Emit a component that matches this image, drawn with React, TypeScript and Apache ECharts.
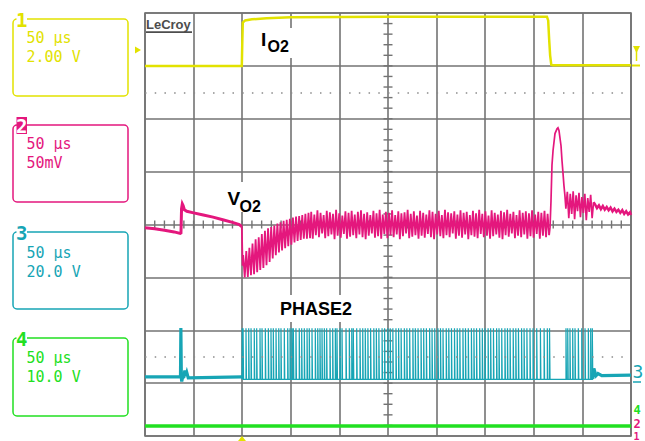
import React, { useEffect, useRef } from "react";
import * as echarts from "echarts";

// ---------- data (time in µs, vertical position in screen divisions, 0 = centre) ----------
const channelNumbers = ["1", "2", "3", "4"];
const timePerDiv = ["50 µs", "50 µs", "50 µs", "50 µs"];
const voltsPerDiv = ["2.00 V", "50mV", "20.0 V", "10.0 V"];
const traceLabels = ["I", "V", "PHASE2"];

// Channel 1 : I_O2 load step
const ioTrace: [number, number][] = [
  [0, 3.0], [99.6, 3.0], [100.1, 3.45], [100.6, 3.82], [103, 3.86], [110, 3.88], [125, 3.9],
  [150, 3.92], [250, 3.93], [413.5, 3.93], [414.8, 3.86], [415.8, 3.5], [416.8, 3.2],
  [418, 3.02], [419.5, 3.01], [500, 3.01],
];

// Channel 2 : V_O2 before the step
const vo2Pre: [number, number][] = [
  [0, -0.06], [10, -0.08], [20, -0.11], [30, -0.14], [36.2, -0.17], [37.0, -0.16], [37.6, 0.3],
  [38.4, 0.39], [39.2, 0.36], [40.5, 0.28], [43, 0.25], [50, 0.22], [60, 0.18], [70, 0.14],
  [80, 0.09], [90, 0.04], [97, 0.0], [99.6, -0.04],
];

// Channel 2 : V_O2 ripple during the load
const vo2Ripple: [number, number][] = [
  [99.6, -0.04], [100.4, -0.78],
  [101.0, -0.58], [102.6, -1.0], [104.2, -0.5], [105.8, -0.99], [107.4, -0.44], [109.0, -0.96],
  [110.6, -0.36], [112.2, -0.94], [113.8, -0.28], [115.4, -0.9], [117.0, -0.24], [118.6, -0.86],
  [120.2, -0.18], [121.8, -0.82], [123.4, -0.12], [125.0, -0.77], [126.6, -0.07], [128.2, -0.71],
  [129.8, -0.05], [131.4, -0.64], [133.0, -0.02], [134.6, -0.58], [136.2, 0.02], [137.8, -0.53],
  [139.4, 0.04], [141.0, -0.49], [142.6, 0.07], [144.2, -0.45], [145.8, 0.09], [147.4, -0.41],
  [149.0, 0.11], [150.6, -0.38], [152.2, 0.13], [153.8, -0.34], [155.4, 0.15], [157.0, -0.31],
  [158.6, 0.16], [160.2, -0.29], [161.8, 0.18], [163.4, -0.27], [165.0, 0.2], [166.6, -0.27],
  [168.2, 0.22], [169.8, -0.26],
  [171.0, 0.24], [172.6, -0.27], [174.2, 0.19], [175.8, -0.2], [177.4, 0.27], [179.0, -0.24],
  [180.6, 0.22], [182.2, -0.17], [183.8, 0.18], [185.4, -0.26], [187.0, 0.26], [188.6, -0.22],
  [190.2, 0.23], [191.8, -0.19], [193.4, 0.2], [195.0, -0.28], [196.6, 0.28], [198.2, -0.21],
  [199.8, 0.21], [201.4, -0.25],
  [203.0, 0.17], [204.6, -0.18], [206.2, 0.25], [207.8, -0.27], [209.4, 0.22], [211.0, -0.23],
  [212.6, 0.26], [214.2, -0.2], [215.8, 0.19], [217.4, -0.26], [219.0, 0.24], [220.6, -0.19],
  [222.2, 0.27], [223.8, -0.24], [225.4, 0.2], [227.0, -0.28], [228.6, 0.23], [230.2, -0.21],
  [231.8, 0.18], [233.4, -0.17],
  [235.0, 0.26], [236.6, -0.25], [238.2, 0.21], [239.8, -0.22], [241.4, 0.28], [243.0, -0.27],
  [244.6, 0.19], [246.2, -0.18], [247.8, 0.24], [249.4, -0.26], [251.0, 0.22], [252.6, -0.2],
  [254.2, 0.27], [255.8, -0.24], [257.4, 0.18], [259.0, -0.19], [260.6, 0.25], [262.2, -0.28],
  [263.8, 0.21], [265.4, -0.22],
  [267.0, 0.23], [268.6, -0.17], [270.2, 0.28], [271.8, -0.26], [273.4, 0.2], [275.0, -0.23],
  [276.6, 0.25], [278.2, -0.2], [279.8, 0.17], [281.4, -0.27], [283.0, 0.26], [284.6, -0.21],
  [286.2, 0.22], [287.8, -0.25], [289.4, 0.19], [291.0, -0.18], [292.6, 0.27], [294.2, -0.24],
  [295.8, 0.24], [297.4, -0.28],
  [299.0, 0.2], [300.6, -0.19], [302.2, 0.26], [303.8, -0.22], [305.4, 0.18], [307.0, -0.26],
  [308.6, 0.28], [310.2, -0.2], [311.8, 0.23], [313.4, -0.24], [315.0, 0.21], [316.6, -0.17],
  [318.2, 0.25], [319.8, -0.27], [321.4, 0.19], [323.0, -0.21], [324.6, 0.27], [326.2, -0.25],
  [327.8, 0.22], [329.4, -0.19],
  [331.0, 0.24], [332.6, -0.28], [334.2, 0.18], [335.8, -0.2], [337.4, 0.26], [339.0, -0.23],
  [340.6, 0.21], [342.2, -0.26], [343.8, 0.28], [345.4, -0.18], [347.0, 0.2], [348.6, -0.24],
  [350.2, 0.25], [351.8, -0.21], [353.4, 0.17], [355.0, -0.27], [356.6, 0.27], [358.2, -0.22],
  [359.8, 0.22], [361.4, -0.19],
  [363.0, 0.19], [364.6, -0.25], [366.2, 0.26], [367.8, -0.28], [369.4, 0.23], [371.0, -0.2],
  [372.6, 0.28], [374.2, -0.23], [375.8, 0.2], [377.4, -0.17], [379.0, 0.24], [380.6, -0.26],
  [382.2, 0.18], [383.8, -0.21], [385.4, 0.27], [387.0, -0.24], [388.6, 0.22], [390.2, -0.19],
  [391.8, 0.25], [393.4, -0.27],
  [395.0, 0.21], [396.6, -0.22], [398.2, 0.27], [399.8, -0.25], [401.4, 0.19], [403.0, -0.18],
  [404.6, 0.24], [406.2, -0.27], [407.8, 0.22], [409.4, -0.21], [411.0, 0.26], [412.6, -0.24],
  [414.2, 0.2], [415.8, -0.2],
];

// Channel 2 : overshoot at load release and its ripple
const vo2Overshoot: [number, number][] = [
  [415.8, -0.2], [416.7, -0.05], [417.7, 0.45], [418.7, 1.12], [419.8, 1.4], [421.8, 1.72],
  [423.9, 1.81], [424.9, 1.83], [425.9, 1.78], [428.0, 1.49], [429.0, 1.21], [430.0, 0.98],
  [431.0, 0.74], [432.0, 0.55], [433.0, 0.3], [434.5, 0.62], [436.0, 0.12], [437.5, 0.58],
  [439.0, 0.2], [440.5, 0.63], [442.0, 0.1], [443.5, 0.55], [445.0, 0.25], [446.5, 0.6],
  [448.0, 0.14], [449.5, 0.52], [451.0, 0.22], [452.5, 0.58], [454.0, 0.08], [455.5, 0.5],
  [457.0, 0.24], [458.5, 0.56], [460.0, 0.12], [461.5, 0.42],
];

// Channel 2 : slow decay at the end
const vo2Tail: [number, number][] = [
  [461.5, 0.42], [463.0, 0.38], [465.0, 0.31], [467.0, 0.36], [469.0, 0.29], [471.0, 0.35],
  [473.0, 0.28], [475.0, 0.33], [477.0, 0.27], [479.0, 0.32], [481.0, 0.25], [483.0, 0.3],
  [485.0, 0.24], [487.0, 0.28], [489.0, 0.22], [491.0, 0.27], [493.0, 0.2], [495.0, 0.25],
  [497.0, 0.19], [499.0, 0.23], [500.0, 0.18],
];

// Channel 3 : PHASE2 switch node
const phasePre: [number, number][] = [
  [0, -2.88], [36.5, -2.88], [36.9, -1.96], [37.4, -2.9], [37.8, -2.97], [38.5, -2.9],
  [40, -2.88], [41, -2.76], [42, -2.86], [43, -2.8], [44.5, -2.9], [99.8, -2.88],
];
const phaseLow = -2.93;
const phaseHigh = -1.96;
const phasePulseTimes = [
  100.0, 100.9, 103.9, 106.7, 109.1, 112.4, 114.9, 118.3, 120.4, 123.8, 126.9, 129.6, 132.0,
  134.8, 137.6, 139.9, 143.3, 146.8, 149.2, 151.2, 152.6, 155.3, 158.7, 161.2, 163.9, 166.7,
  169.0, 171.8, 175.2, 177.7, 180.0, 182.1, 184.5, 186.9, 190.3, 193.1, 195.8, 197.5, 200.6,
  202.7, 206.8, 210.2, 212.7, 214.3, 217.8, 221.2, 224.0, 226.6, 229.3, 232.1, 235.4, 238.0,
  240.6, 243.9, 246.5, 249.8, 252.3, 255.0, 258.2, 260.9, 263.5, 266.8, 269.4, 272.3, 275.6,
  278.1, 280.9, 284.0, 286.7, 289.5, 292.8, 295.3, 298.1, 301.4, 304.0, 306.6, 309.9, 312.5,
  315.3, 318.4, 321.2, 323.9, 327.1, 329.7, 332.6, 335.8, 338.4, 341.1, 344.3, 347.0, 349.8,
  353.0, 355.6, 358.5, 361.7, 364.2, 367.0, 370.3, 372.9, 375.6, 378.8, 381.5, 384.2, 387.4,
  390.0, 392.9, 396.1, 399.2, 403.0, 406.8, 410.6, 413.9, 416.2, 433.1, 434.9, 437.2, 440.0,
  442.4, 445.8, 449.3, 452.7, 456.1, 458.5, 460.2,
];
const phasePost: [number, number][] = [
  [460.7, -2.92], [461.8, -2.72], [463.0, -2.8], [464.0, -2.86], [466.0, -2.82], [470.0, -2.86],
  [500.0, -2.85],
];

// Channel 4 : flat trace
const ch4Trace: [number, number][] = [[0, -3.81], [500, -3.81]];

// ---------- styling ----------
const CH1 = "#e2e200";
const CH2 = "#e4177d";
const CH3 = "#17a5b5";
const CH4 = "#22e022";
const GRID = "#737373";

export default function App() {
  const ref = useRef<HTMLDivElement>(null);

  useEffect(() => {
    if (!ref.current) return;
    const chart = echarts.init(ref.current, null, { renderer: "svg" });

    const pulseData: [number, number][] = [[99.8, phaseLow]];
    phasePulseTimes.forEach((t) => {
      pulseData.push([t, phaseLow], [t, phaseHigh], [t + 0.5, phaseHigh], [t + 0.5, phaseLow]);
    });
    pulseData.push([460.7, phaseLow]);

    const mono = '"DejaVu Sans Mono", monospace';
    const sans = '"Liberation Sans", Arial, sans-serif';

    const txt = (
      text: string, x: number, y: number, fill: string, fontSize: number,
      fontFamily: string, fontWeight = "normal", align = "left", z = 100
    ) => ({
      type: "text", x, y, z, silent: true,
      style: {
        text, fill, fontSize, fontFamily, fontWeight,
        align, verticalAlign: "middle", textAlign: align, textVerticalAlign: "middle",
      },
    });

    const boxes = [
      { color: CH1, y: 19, h: 77, l1: 37.5, l2: 56.5, ny: 19.5, inv: false },
      { color: CH2, y: 125, h: 77, l1: 144, l2: 163, ny: 125.5, inv: true },
      { color: CH3, y: 232, h: 77, l1: 252.5, l2: 271.5, ny: 233, inv: false },
      { color: CH4, y: 338, h: 78, l1: 357.5, l2: 377, ny: 339, inv: false },
    ];

    const elements: any[] = [];
    boxes.forEach((b, i) => {
      elements.push({
        type: "rect", z: 90, silent: true,
        shape: { x: 13, y: b.y, width: 115, height: b.h, r: 4 },
        style: { fill: "transparent", stroke: b.color, lineWidth: 1.5 },
      });
      elements.push({
        type: "rect", z: 95, silent: true,
        shape: { x: 16.5, y: b.ny - 8.5, width: 10.5, height: 17 },
        style: { fill: b.inv ? b.color : "#ffffff" },
      });
      elements.push(txt(channelNumbers[i], 21.8, b.ny, b.inv ? "#ffffff" : b.color, 19, mono, "bold", "center"));
      elements.push(txt(timePerDiv[i], 26.5, b.l1, b.color, 15, mono));
      elements.push(txt(voltsPerDiv[i], 26.5, b.l2, b.color, 15, mono));
    });

    // annotation labels with white backgrounds
    elements.push({ type: "rect", z: 60, silent: true, shape: { x: 244, y: 28, width: 49, height: 30 }, style: { fill: "#ffffff" } });
    elements.push(txt(traceLabels[0], 261, 39.5, "#000", 19, sans, "bold"));
    elements.push(txt("O2", 267.5, 46, "#000", 16, sans, "bold"));
    elements.push({ type: "rect", z: 60, silent: true, shape: { x: 218, y: 182, width: 55, height: 30 }, style: { fill: "#ffffff" } });
    elements.push(txt(traceLabels[1], 227.5, 198.5, "#000", 19, sans, "bold"));
    elements.push(txt("O2", 239.5, 206, "#000", 16, sans, "bold"));
    elements.push({ type: "rect", z: 60, silent: true, shape: { x: 275, y: 295, width: 93, height: 27 }, style: { fill: "#ffffff" } });
    elements.push(txt(traceLabels[2], 280, 308.5, "#000", 18, sans, "bold"));

    // LeCroy logo
    elements.push(txt("LeCroy", 146, 24.5, "#4d4d4d", 13, sans, "bold"));
    elements.push({ type: "rect", z: 100, silent: true, shape: { x: 146, y: 31.3, width: 46, height: 1.8 }, style: { fill: "#4d4d4d" } });

    // markers
    elements.push({ type: "polygon", z: 100, silent: true, shape: { points: [[135, 46.5], [141, 50], [135, 53.5]] }, style: { fill: CH1 } });
    elements.push({ type: "polygon", z: 100, silent: true, shape: { points: [[238, 441], [242, 436], [246, 441]] }, style: { fill: CH1 } });
    elements.push({ type: "polygon", z: 100, silent: true, shape: { points: [[633, 46], [640, 46], [636.5, 53]] }, style: { fill: CH1 } });
    elements.push({ type: "line", z: 100, silent: true, shape: { x1: 636.5, y1: 46, x2: 636.5, y2: 61 }, style: { stroke: CH1, lineWidth: 1.5 } });
    elements.push({ type: "line", z: 100, silent: true, shape: { x1: 632, y1: 65.5, x2: 640, y2: 65.5 }, style: { stroke: CH1, lineWidth: 2 } });
    elements.push(txt("3", 632.5, 371, CH3, 18, mono));
    elements.push({ type: "line", z: 100, silent: true, shape: { x1: 633, y1: 382, x2: 641, y2: 382 }, style: { stroke: CH3, lineWidth: 1.5 } });
    elements.push(txt("4", 633.5, 410, CH4, 12, mono, "bold"));
    elements.push(txt("2", 633.5, 424, CH2, 12, mono, "bold"));
    elements.push(txt("1", 633.5, 436, CH2, 10, mono, "bold"));

    const lineSeries = (data: [number, number][], color: string, width: number, z = 3) => ({
      type: "line", data, showSymbol: false, symbol: "none", silent: true, z,
      lineStyle: { color, width, join: "miter" }, emphasis: { disabled: true },
    });

    const option: any = {
      animation: false,
      backgroundColor: "#ffffff",
      grid: { left: 145, top: 13, width: 486, height: 423, show: true, borderColor: GRID, borderWidth: 1.6, backgroundColor: "transparent" },
      xAxis: {
        type: "value", min: 0, max: 500, interval: 50,
        axisLine: { show: false }, axisTick: { show: false }, axisLabel: { show: false },
        splitLine: { show: true, lineStyle: { color: GRID, width: 1.6 } },
      },
      yAxis: {
        type: "value", min: -4, max: 4, interval: 1,
        axisLine: { show: false }, axisTick: { show: false }, axisLabel: { show: false },
        splitLine: { show: true, lineStyle: { color: GRID, width: 1.6 } },
      },
      graphic: { elements },
      series: [
        {
          type: "custom", silent: true, z: 1, data: [[250, 0]],
          renderItem: (params: any, api: any) => {
            const children: any[] = [];
            for (let i = 1; i < 50; i++) {
              const p = api.coord([i * 10, 0]);
              children.push({ type: "line", shape: { x1: p[0], y1: p[1] - 4, x2: p[0], y2: p[1] + 4 }, style: { stroke: GRID, lineWidth: 1.4 } });
            }
            for (let j = 1; j < 40; j++) {
              const p = api.coord([250, -4 + j * 0.2]);
              children.push({ type: "line", shape: { x1: p[0] - 4.5, y1: p[1], x2: p[0] + 4.5, y2: p[1] }, style: { stroke: GRID, lineWidth: 1.4 } });
            }
            return { type: "group", children };
          },
        },
        {
          ...lineSeries(ch4Trace, CH4, 3.5),
          markLine: {
            silent: true, symbol: ["none", "none"], label: { show: false },
            lineStyle: { color: "#8a8a8a", width: 1.5, type: [1.5, 8.22] },
            emphasis: { disabled: true },
            data: [{ yAxis: 2.5 }, { yAxis: -2.5 }],
          },
        },
        lineSeries(phasePre, CH3, 3.2),
        lineSeries(pulseData, CH3, 1.2),
        lineSeries(phasePost, CH3, 3.2),
        lineSeries(ioTrace, CH1, 2.5),
        lineSeries(vo2Pre, CH2, 3),
        lineSeries(vo2Ripple, CH2, 1.8),
        lineSeries(vo2Overshoot, CH2, 1.7),
        lineSeries(vo2Tail, CH2, 2.5),
      ],
    };

    chart.setOption(option);
    return () => chart.dispose();
  }, []);

  return (
    <div
      ref={ref}
      style={{ position: "absolute", left: 0, top: 0, width: 645, height: 441, background: "#ffffff" }}
    />
  );
}
